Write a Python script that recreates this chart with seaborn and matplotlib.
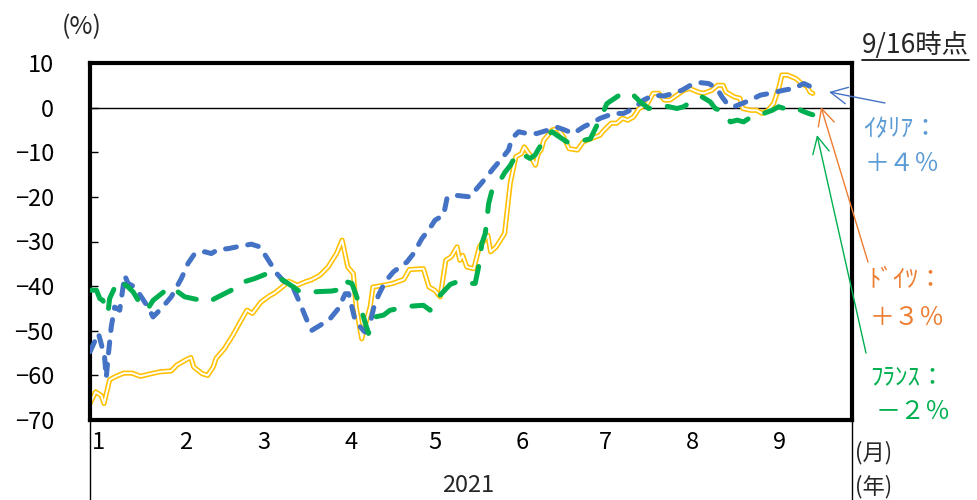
import numpy as np
import pandas as pd
import matplotlib
matplotlib.use("Agg")
import matplotlib.pyplot as plt
from matplotlib.lines import Line2D
import seaborn as sns

# ---------------- data (day index from 1 Jan 2021, % change) ----------------
month_start_days = [0, 31, 59, 90, 120, 151, 181, 212, 243]
month_labels = ["1", "2", "3", "4", "5", "6", "7", "8", "9"]
y_ticks = [10, 0, -10, -20, -30, -40, -50, -60, -70]

germany_day = [0, 2, 4, 5, 7, 9, 12, 15, 18, 22, 25, 29, 31, 34, 36, 37, 40, 42, 44, 45,
               48, 51, 54, 56, 58, 61, 64, 66, 69, 71, 74, 77, 79, 82, 85, 88, 90, 92, 94, 95,
               97, 99, 100, 101, 105, 108, 112, 114, 119, 121, 123, 125, 127, 129, 131, 132, 133, 134.5, 137, 139,
               142, 143, 145, 148, 150, 152, 154, 155, 157, 159, 160, 161, 162, 165, 167, 169, 171, 174, 176, 179,
               182, 183, 186, 188, 190, 192, 194, 196, 199, 201, 203, 205, 207, 209.5, 212, 214, 217, 219, 222, 224,
               226, 227, 230, 232, 233, 236, 238, 240, 242, 244, 246, 247, 249, 252, 254, 256, 257, 258]
germany_val = [-66.3, -63.7, -64.5, -66.3, -61.0, -60.3, -59.5, -59.5, -60.2, -59.6, -59.2, -59.0, -57.7, -56.6, -56.0, -58.1, -59.6, -60.0, -58.1, -56.2,
               -54.0, -51.0, -47.6, -45.4, -46.1, -43.6, -42.2, -41.5, -40.0, -38.9, -39.8, -39.0, -38.6, -37.6, -35.7, -32.7, -29.7, -35.7, -37.2, -44.7,
               -51.8, -46.9, -44.7, -40.2, -39.8, -39.4, -38.5, -36.3, -36.1, -40.2, -40.9, -42.4, -34.2, -33.4, -31.2, -34.2, -33.1, -35.7, -36.1, -31.2,
               -28.6, -32.3, -31.2, -28.2, -17.0, -11.0, -10.3, -8.8, -10.6, -12.9, -10.3, -9.5, -7.3, -5.0, -4.7, -6.5, -9.2, -9.5, -7.7, -6.9,
               -6.2, -5.4, -3.5, -3.5, -2.4, -2.8, -2.1, -0.2, 0.9, 3.2, 3.2, 1.7, 1.7, 2.8, 3.9, 4.3, 3.5, 3.2, 3.9, 5.0,
               5.0, 3.5, 2.4, 2.1, -0.2, -0.6, -0.6, -1.3, -0.6, 0.9, 4.7, 7.3, 7.3, 6.5, 5.4, 4.7, 3.5, 3.2]

italy_day = [0, 3, 4, 5.2, 5.8, 6.6, 7.6, 8.8, 10.6, 11.8, 12.4, 13.6, 16, 18.3, 20.7, 22.5, 25.5, 29, 32.6, 35,
             37.4, 41, 43.3, 45.7, 49.3, 54, 57.6, 60.6, 63, 66.7, 69, 72.6, 75, 77.4, 79.2, 82.1, 85.7, 88.7, 91.1, 92.3,
             93.5, 94.6, 96.4, 98.2, 100, 101.2, 103, 105.4, 108.3, 113.1, 115.5, 118.5, 120.8, 123.2, 126.2, 127.4, 129.8, 132.7, 135.7, 138.1,
             141.1, 144, 147, 149.4, 150.6, 153, 156, 159.5, 163.7, 166.7, 169, 172.6, 176.2, 179.8, 182.1, 186.9, 190.5, 194, 197.6, 201.2,
             204.8, 208.3, 211.3, 214.3, 217.9, 220.8, 223.8, 225.6, 227.4, 229.8, 232.7, 235.7, 239.3, 243.5, 247.6, 251.2, 254.8, 258]
italy_val = [-54.7, -50.6, -52.9, -55.9, -60.5, -55.0, -49.1, -44.7, -45.4, -40.2, -37.6, -39.4, -40.2, -42.4, -44.7, -46.9, -45.0, -42.4, -38.3, -34.9,
             -32.7, -32.3, -32.7, -31.8, -31.6, -31.0, -30.6, -31.2, -33.5, -37.2, -38.8, -40.5, -43.9, -47.6, -49.9, -48.8, -47.3, -45.0, -41.7, -41.7,
             -44.7, -47.6, -49.1, -50.3, -48.4, -45.0, -42.0, -39.0, -36.8, -34.6, -32.7, -29.3, -27.5, -25.2, -24.1, -20.4, -19.6, -19.8, -20.0, -18.1,
             -15.9, -13.6, -11.4, -9.5, -6.9, -5.4, -5.8, -5.8, -5.0, -4.4, -4.9, -5.8, -4.3, -3.2, -2.4, -1.3, -1.3, -0.2, 1.7, 2.8,
             2.6, 3.2, 3.9, 5.0, 5.6, 5.4, 4.3, 2.4, 0.9, 0.2, 0.9, 1.7, 2.8, 3.3, 3.9, 4.3, 5.4, 4.5]

france_day = [0, 2.3, 3.5, 4.6, 6.4, 7, 10, 11.8, 13.6, 15.4, 18.9, 20.7, 22.5, 28.5, 31.4, 33.8, 39.8, 42.7, 44.5, 50.5,
              52.9, 55.2, 58.8, 62.4, 65.5, 69, 72.6, 75, 79.2, 86.3, 88.1, 89.9, 93.5, 95.2, 97.6, 99.4, 101.8, 104.8, 107.1, 114.3,
              119, 121.4, 124.4, 128.6, 131.2, 132.1, 137.5, 138.7, 139.9, 141.1, 142.3, 143.5, 146.4, 148.2, 150, 152.4, 154.8, 157.1, 158.9, 161.3,
              163.1, 164.9, 166.7, 170.3, 173.8, 178.6, 182.1, 184.5, 189.9, 193.5, 196.4, 199.4, 202.4, 206, 209.5, 211.9, 215.5, 218.5, 221.4, 223.2,
              226.2, 228.6, 231, 233.3, 236.9, 240.5, 243.5, 245.8, 250, 252.4, 254.8, 256.5, 258]
france_val = [-40.9, -40.9, -42.8, -43.2, -46.1, -42.8, -38.7, -39.4, -40.2, -41.3, -45.0, -45.0, -43.2, -40.2, -41.3, -42.4, -43.2, -43.5, -42.8, -40.9,
              -40.5, -39.0, -38.3, -37.4, -37.6, -38.7, -40.2, -41.3, -41.3, -41.1, -40.9, -38.7, -39.4, -42.4, -46.9, -50.6, -46.9, -46.5, -45.4, -44.5,
              -44.3, -45.4, -42.4, -39.6, -39.0, -39.4, -39.4, -35.7, -30.4, -28.2, -21.5, -18.5, -16.3, -14.4, -13.0, -10.3, -10.6, -11.4, -10.6, -8.0,
              -6.2, -5.4, -6.2, -7.7, -7.7, -7.0, -2.5, 0.9, 3.2, 3.1, 1.3, -0.2, 0.3, 0.3, -0.2, 0.2, 1.7, 2.4, 1.3, -0.2,
              -0.9, -3.2, -2.8, -3.2, -1.7, -1.3, -0.6, 0.2, -0.6, -0.2, -0.9, -1.3, -1.6]

# ---------------- styling ----------------
sns.set_style("white")
plt.rcParams["font.family"] = ["Noto Sans CJK JP", "DejaVu Sans"]
plt.rcParams["axes.unicode_minus"] = True

W, H = 978, 500
fig = plt.figure(figsize=(W / 100, H / 100), dpi=100)
L, R, T, B = 90, 852, 63, 420
ax = fig.add_axes([L / W, 1 - B / H, (R - L) / W, (B - T) / H])

GOLD = "#FFC000"
BLUE = "#4472C4"
GREEN = "#00B050"

ax.axhline(0, color="black", lw=1.0, zorder=1)

sns.lineplot(x=germany_day, y=germany_val, ax=ax, color=GOLD, linewidth=3.7,
             estimator=None, sort=False, zorder=2, solid_joinstyle="round")
sns.lineplot(x=germany_day, y=germany_val, ax=ax, color="white", linewidth=1.4,
             estimator=None, sort=False, zorder=2.1, solid_joinstyle="round")
sns.lineplot(x=italy_day, y=italy_val, ax=ax, color=BLUE, linewidth=3.6,
             linestyle=(0, (2.2, 2.3)), dash_capstyle="round",
             estimator=None, sort=False, zorder=3)
sns.lineplot(x=france_day, y=france_val, ax=ax, color=GREEN, linewidth=3.6,
             linestyle=(0, (4.0, 3.6)), dash_capstyle="round",
             estimator=None, sort=False, zorder=4)

ax.set_xlim(0, 272)
ax.set_ylim(-70, 10)
ax.set_yticks(y_ticks)
ax.set_xticks([d + 0.8 for d in month_start_days])
ax.set_xticklabels(month_labels, ha="left")
ax.set_xlabel("")
ax.set_ylabel("")
ax.tick_params(axis="y", direction="in", length=6, width=1, pad=26, labelsize=17, colors="black", left=True)
ax.tick_params(axis="x", length=0, pad=8, labelsize=17, colors="black")
for s in ax.spines.values():
    s.set_visible(True)
    s.set_linewidth(3)
    s.set_color("black")

# separators below the axis
for xp in (L, R):
    fig.add_artist(Line2D([xp / W, xp / W], [0, 1 - B / H], transform=fig.transFigure,
                          color="black", lw=1.0))

def fp(x, y):
    return (x / W, 1 - y / H)

fig.text(*fp(82, 27), "(%)", fontsize=18, ha="center", va="center")
fig.text(*fp(468, 485), "2021", fontsize=17, ha="center", va="center")
fig.text(*fp(855, 453), "(月)", fontsize=16, ha="left", va="center")
fig.text(*fp(855, 487), "(年)", fontsize=16, ha="left", va="center")
t916 = fig.text(*fp(862, 45), "9/16時点", fontsize=19, ha="left", va="center")

IT_TXT = "#5B9BD5"
DE_TXT = "#ED7D31"
FR_TXT = "#00B050"
fs = 18
fig.text(*fp(863, 129), "ｲﾀﾘｱ：", fontsize=fs, color=IT_TXT, ha="left", va="center")
fig.text(*fp(865, 164), "＋４％", fontsize=fs, color=IT_TXT, ha="left", va="center")
fig.text(*fp(868, 280), "ﾄﾞｲﾂ：", fontsize=fs, color=DE_TXT, ha="left", va="center")
fig.text(*fp(870, 318), "＋３％", fontsize=fs, color=DE_TXT, ha="left", va="center")
fig.text(*fp(870, 377), "ﾌﾗﾝｽ：", fontsize=fs, color=FR_TXT, ha="left", va="center")
fig.text(*fp(876, 412), "－２％", fontsize=fs, color=FR_TXT, ha="left", va="center")

arrows = [((829, 92), (885, 103), BLUE),
          ((821, 107), (868, 262), DE_TXT),
          ((817, 135), (866, 353), GREEN)]
for head, tail, col in arrows:
    ax.annotate("", xy=fp(*head), xytext=fp(*tail), xycoords="figure fraction",
                textcoords="figure fraction", annotation_clip=False,
                arrowprops=dict(arrowstyle="->,head_length=0.6,head_width=0.3",
                                color=col, lw=1.0, mutation_scale=20,
                                shrinkA=0, shrinkB=0))

# underline for 9/16時点
fig.canvas.draw()
bb = t916.get_window_extent()
uy = bb.y0 - 1
fig.add_artist(Line2D([bb.x0 / W, bb.x1 / W], [uy / H, uy / H], transform=fig.transFigure,
                      color="black", lw=1.2))

fig.savefig("out.png", dpi=100)
